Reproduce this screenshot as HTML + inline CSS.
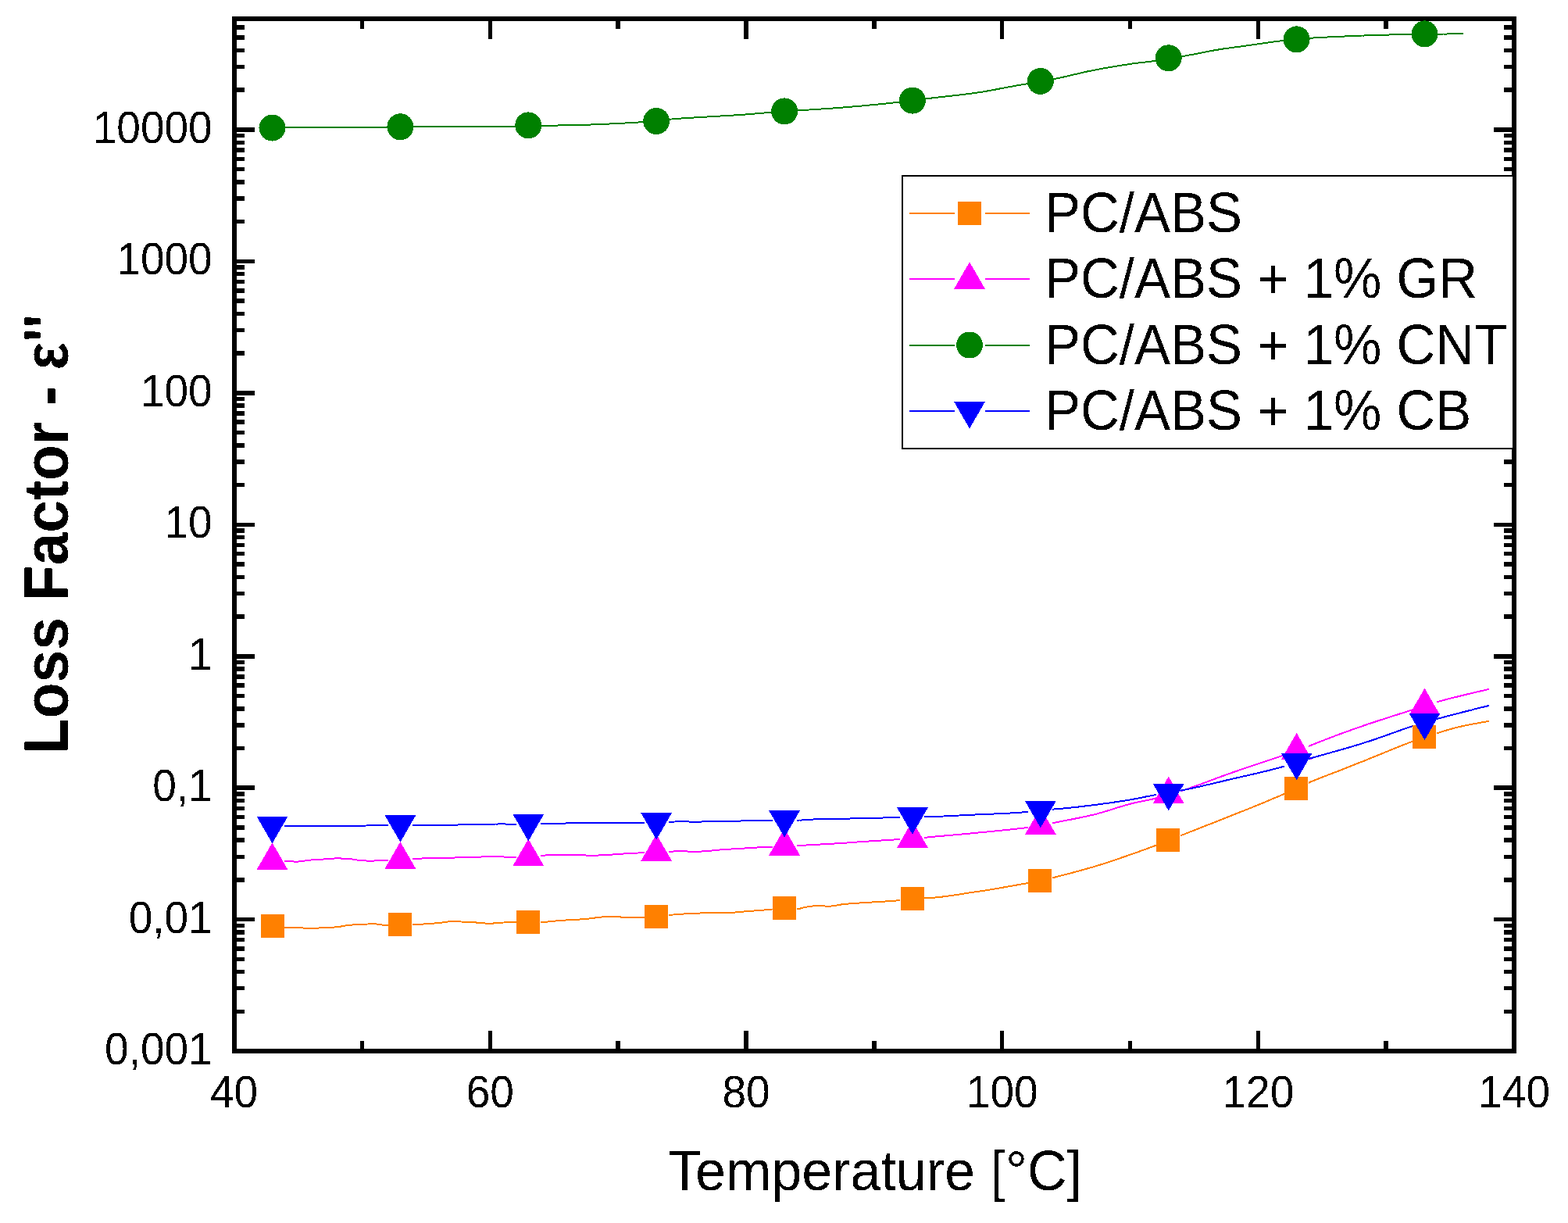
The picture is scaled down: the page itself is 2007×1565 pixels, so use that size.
<!DOCTYPE html>
<html><head><meta charset="utf-8"><title>Loss Factor vs Temperature</title>
<style>html,body{margin:0;padding:0;background:#fff;}svg{display:block;}</style>
</head><body>
<svg width="2007" height="1565" viewBox="0 0 2007 1565">
<defs><filter id="bin" x="0" y="0" width="2007" height="1565" filterUnits="userSpaceOnUse" color-interpolation-filters="sRGB"><feComponentTransfer><feFuncA type="discrete" tableValues="0 1"/></feComponentTransfer></filter></defs>
<rect width="2007" height="1565" fill="#fff"/>
<g shape-rendering="crispEdges">
<rect x="297" y="21" width="6" height="1327" fill="#000"/>
<rect x="1935" y="21" width="6" height="1327" fill="#000"/>
<rect x="297" y="21" width="1644" height="6" fill="#000"/>
<rect x="297" y="1342" width="1644" height="6" fill="#000"/>
<rect x="303" y="1342" width="23" height="6" fill="#000"/>
<rect x="1912" y="1342" width="23" height="6" fill="#000"/>
<rect x="303" y="1292" width="10" height="5" fill="#000"/>
<rect x="1925" y="1292" width="10" height="5" fill="#000"/>
<rect x="303" y="1262" width="10" height="5" fill="#000"/>
<rect x="1925" y="1262" width="10" height="5" fill="#000"/>
<rect x="303" y="1241" width="10" height="5" fill="#000"/>
<rect x="1925" y="1241" width="10" height="5" fill="#000"/>
<rect x="303" y="1225" width="10" height="5" fill="#000"/>
<rect x="1925" y="1225" width="10" height="5" fill="#000"/>
<rect x="303" y="1211" width="10" height="6" fill="#000"/>
<rect x="1925" y="1211" width="10" height="6" fill="#000"/>
<rect x="303" y="1200" width="10" height="5" fill="#000"/>
<rect x="1925" y="1200" width="10" height="5" fill="#000"/>
<rect x="303" y="1190" width="10" height="6" fill="#000"/>
<rect x="1925" y="1190" width="10" height="6" fill="#000"/>
<rect x="303" y="1182" width="10" height="5" fill="#000"/>
<rect x="1925" y="1182" width="10" height="5" fill="#000"/>
<rect x="303" y="1174" width="23" height="5" fill="#000"/>
<rect x="1912" y="1174" width="23" height="5" fill="#000"/>
<rect x="303" y="1123" width="10" height="6" fill="#000"/>
<rect x="1925" y="1123" width="10" height="6" fill="#000"/>
<rect x="303" y="1094" width="10" height="5" fill="#000"/>
<rect x="1925" y="1094" width="10" height="5" fill="#000"/>
<rect x="303" y="1072" width="10" height="6" fill="#000"/>
<rect x="1925" y="1072" width="10" height="6" fill="#000"/>
<rect x="303" y="1056" width="10" height="6" fill="#000"/>
<rect x="1925" y="1056" width="10" height="6" fill="#000"/>
<rect x="303" y="1043" width="10" height="5" fill="#000"/>
<rect x="1925" y="1043" width="10" height="5" fill="#000"/>
<rect x="303" y="1032" width="10" height="5" fill="#000"/>
<rect x="1925" y="1032" width="10" height="5" fill="#000"/>
<rect x="303" y="1022" width="10" height="5" fill="#000"/>
<rect x="1925" y="1022" width="10" height="5" fill="#000"/>
<rect x="303" y="1013" width="10" height="6" fill="#000"/>
<rect x="1925" y="1013" width="10" height="6" fill="#000"/>
<rect x="303" y="1005" width="23" height="6" fill="#000"/>
<rect x="1912" y="1005" width="23" height="6" fill="#000"/>
<rect x="303" y="955" width="10" height="5" fill="#000"/>
<rect x="1925" y="955" width="10" height="5" fill="#000"/>
<rect x="303" y="925" width="10" height="6" fill="#000"/>
<rect x="1925" y="925" width="10" height="6" fill="#000"/>
<rect x="303" y="904" width="10" height="6" fill="#000"/>
<rect x="1925" y="904" width="10" height="6" fill="#000"/>
<rect x="303" y="888" width="10" height="5" fill="#000"/>
<rect x="1925" y="888" width="10" height="5" fill="#000"/>
<rect x="303" y="874" width="10" height="6" fill="#000"/>
<rect x="1925" y="874" width="10" height="6" fill="#000"/>
<rect x="303" y="863" width="10" height="6" fill="#000"/>
<rect x="1925" y="863" width="10" height="6" fill="#000"/>
<rect x="303" y="853" width="10" height="6" fill="#000"/>
<rect x="1925" y="853" width="10" height="6" fill="#000"/>
<rect x="303" y="845" width="10" height="5" fill="#000"/>
<rect x="1925" y="845" width="10" height="5" fill="#000"/>
<rect x="303" y="837" width="23" height="6" fill="#000"/>
<rect x="1912" y="837" width="23" height="6" fill="#000"/>
<rect x="303" y="786" width="10" height="6" fill="#000"/>
<rect x="1925" y="786" width="10" height="6" fill="#000"/>
<rect x="303" y="757" width="10" height="5" fill="#000"/>
<rect x="1925" y="757" width="10" height="5" fill="#000"/>
<rect x="303" y="736" width="10" height="5" fill="#000"/>
<rect x="1925" y="736" width="10" height="5" fill="#000"/>
<rect x="303" y="719" width="10" height="6" fill="#000"/>
<rect x="1925" y="719" width="10" height="6" fill="#000"/>
<rect x="303" y="706" width="10" height="5" fill="#000"/>
<rect x="1925" y="706" width="10" height="5" fill="#000"/>
<rect x="303" y="695" width="10" height="5" fill="#000"/>
<rect x="1925" y="695" width="10" height="5" fill="#000"/>
<rect x="303" y="685" width="10" height="5" fill="#000"/>
<rect x="1925" y="685" width="10" height="5" fill="#000"/>
<rect x="303" y="676" width="10" height="6" fill="#000"/>
<rect x="1925" y="676" width="10" height="6" fill="#000"/>
<rect x="303" y="669" width="23" height="5" fill="#000"/>
<rect x="1912" y="669" width="23" height="5" fill="#000"/>
<rect x="303" y="618" width="10" height="5" fill="#000"/>
<rect x="1925" y="618" width="10" height="5" fill="#000"/>
<rect x="303" y="588" width="10" height="6" fill="#000"/>
<rect x="1925" y="588" width="10" height="6" fill="#000"/>
<rect x="303" y="567" width="10" height="6" fill="#000"/>
<rect x="1925" y="567" width="10" height="6" fill="#000"/>
<rect x="303" y="551" width="10" height="5" fill="#000"/>
<rect x="1925" y="551" width="10" height="5" fill="#000"/>
<rect x="303" y="537" width="10" height="6" fill="#000"/>
<rect x="1925" y="537" width="10" height="6" fill="#000"/>
<rect x="303" y="526" width="10" height="6" fill="#000"/>
<rect x="1925" y="526" width="10" height="6" fill="#000"/>
<rect x="303" y="516" width="10" height="6" fill="#000"/>
<rect x="1925" y="516" width="10" height="6" fill="#000"/>
<rect x="303" y="508" width="10" height="5" fill="#000"/>
<rect x="1925" y="508" width="10" height="5" fill="#000"/>
<rect x="303" y="500" width="23" height="6" fill="#000"/>
<rect x="1912" y="500" width="23" height="6" fill="#000"/>
<rect x="303" y="449" width="10" height="6" fill="#000"/>
<rect x="1925" y="449" width="10" height="6" fill="#000"/>
<rect x="303" y="420" width="10" height="5" fill="#000"/>
<rect x="1925" y="420" width="10" height="5" fill="#000"/>
<rect x="303" y="399" width="10" height="5" fill="#000"/>
<rect x="1925" y="399" width="10" height="5" fill="#000"/>
<rect x="303" y="382" width="10" height="6" fill="#000"/>
<rect x="1925" y="382" width="10" height="6" fill="#000"/>
<rect x="303" y="369" width="10" height="6" fill="#000"/>
<rect x="1925" y="369" width="10" height="6" fill="#000"/>
<rect x="303" y="358" width="10" height="5" fill="#000"/>
<rect x="1925" y="358" width="10" height="5" fill="#000"/>
<rect x="303" y="348" width="10" height="5" fill="#000"/>
<rect x="1925" y="348" width="10" height="5" fill="#000"/>
<rect x="303" y="339" width="10" height="6" fill="#000"/>
<rect x="1925" y="339" width="10" height="6" fill="#000"/>
<rect x="303" y="332" width="23" height="5" fill="#000"/>
<rect x="1912" y="332" width="23" height="5" fill="#000"/>
<rect x="303" y="281" width="10" height="5" fill="#000"/>
<rect x="1925" y="281" width="10" height="5" fill="#000"/>
<rect x="303" y="251" width="10" height="6" fill="#000"/>
<rect x="1925" y="251" width="10" height="6" fill="#000"/>
<rect x="303" y="230" width="10" height="6" fill="#000"/>
<rect x="1925" y="230" width="10" height="6" fill="#000"/>
<rect x="303" y="214" width="10" height="5" fill="#000"/>
<rect x="1925" y="214" width="10" height="5" fill="#000"/>
<rect x="303" y="201" width="10" height="5" fill="#000"/>
<rect x="1925" y="201" width="10" height="5" fill="#000"/>
<rect x="303" y="189" width="10" height="6" fill="#000"/>
<rect x="1925" y="189" width="10" height="6" fill="#000"/>
<rect x="303" y="180" width="10" height="5" fill="#000"/>
<rect x="1925" y="180" width="10" height="5" fill="#000"/>
<rect x="303" y="171" width="10" height="5" fill="#000"/>
<rect x="1925" y="171" width="10" height="5" fill="#000"/>
<rect x="303" y="163" width="23" height="6" fill="#000"/>
<rect x="1912" y="163" width="23" height="6" fill="#000"/>
<rect x="303" y="112" width="10" height="6" fill="#000"/>
<rect x="1925" y="112" width="10" height="6" fill="#000"/>
<rect x="303" y="83" width="10" height="5" fill="#000"/>
<rect x="1925" y="83" width="10" height="5" fill="#000"/>
<rect x="303" y="62" width="10" height="5" fill="#000"/>
<rect x="1925" y="62" width="10" height="5" fill="#000"/>
<rect x="303" y="45" width="10" height="6" fill="#000"/>
<rect x="1925" y="45" width="10" height="6" fill="#000"/>
<rect x="303" y="32" width="10" height="6" fill="#000"/>
<rect x="1925" y="32" width="10" height="6" fill="#000"/>
<rect x="461" y="1332" width="5" height="10" fill="#000"/>
<rect x="461" y="27" width="5" height="10" fill="#000"/>
<rect x="625" y="1319" width="5" height="23" fill="#000"/>
<rect x="625" y="27" width="5" height="23" fill="#000"/>
<rect x="788" y="1332" width="6" height="10" fill="#000"/>
<rect x="788" y="27" width="6" height="10" fill="#000"/>
<rect x="952" y="1319" width="6" height="23" fill="#000"/>
<rect x="952" y="27" width="6" height="23" fill="#000"/>
<rect x="1116" y="1332" width="6" height="10" fill="#000"/>
<rect x="1116" y="27" width="6" height="10" fill="#000"/>
<rect x="1280" y="1319" width="5" height="23" fill="#000"/>
<rect x="1280" y="27" width="5" height="23" fill="#000"/>
<rect x="1444" y="1332" width="5" height="10" fill="#000"/>
<rect x="1444" y="27" width="5" height="10" fill="#000"/>
<rect x="1608" y="1319" width="5" height="23" fill="#000"/>
<rect x="1608" y="27" width="5" height="23" fill="#000"/>
<rect x="1771" y="1332" width="6" height="10" fill="#000"/>
<rect x="1771" y="27" width="6" height="10" fill="#000"/>
</g>
<g shape-rendering="crispEdges">
<path d="M364.0,1186.5 L366.0,1186.6 L368.0,1186.7 L370.0,1186.8 L372.1,1186.9 L374.1,1187.0 L376.1,1187.1 L378.1,1187.1 L380.1,1187.2 L382.1,1187.3 L384.1,1187.4 L386.1,1187.4 L388.2,1187.5 L390.2,1187.6 L392.2,1187.6 L394.2,1187.7 L396.2,1187.7 L398.2,1187.7 L400.2,1187.7 L402.3,1187.7 L404.3,1187.6 L406.3,1187.5 L408.3,1187.5 L410.3,1187.4 L412.3,1187.3 L414.3,1187.3 L416.3,1187.2 L418.4,1187.1 L420.4,1187.0 L422.4,1186.9 L424.4,1186.8 L426.4,1186.6 L428.4,1186.5 L430.4,1186.3 L432.5,1186.0 L434.5,1185.8 L436.5,1185.5 L438.5,1185.2 L440.5,1184.8 L442.5,1184.4 L444.5,1184.2 L446.5,1183.9 L448.6,1183.7 L450.6,1183.5 L452.6,1183.4 L454.6,1183.3 L456.6,1183.2 L458.6,1183.1 L460.6,1183.0 L462.7,1183.0 L464.7,1182.9 L466.7,1182.8 L468.7,1182.6 L470.7,1182.5 L472.7,1182.3 L474.7,1182.2 L476.8,1182.1 L478.8,1182.1 L480.8,1182.3 L482.8,1182.6 L484.8,1182.9 L486.8,1183.2 L488.8,1183.5 L490.8,1183.9 L492.9,1184.0 L494.9,1184.0 L496.9,1183.9" fill="none" stroke="#FF8000" stroke-width="2"/>
<path d="M527.9,1183.0 L529.9,1183.0 L531.9,1183.0 L533.9,1182.9 L535.9,1182.9 L538.0,1182.8 L540.0,1182.7 L542.0,1182.5 L544.0,1182.4 L546.0,1182.3 L548.0,1182.1 L550.0,1182.0 L552.0,1181.9 L554.1,1181.7 L556.1,1181.5 L558.1,1181.3 L560.1,1181.1 L562.1,1180.9 L564.1,1180.7 L566.1,1180.5 L568.2,1180.2 L570.2,1180.0 L572.2,1179.6 L574.2,1179.2 L576.2,1178.8 L578.2,1178.7 L580.2,1178.8 L582.3,1178.9 L584.3,1179.0 L586.3,1179.2 L588.3,1179.4 L590.3,1179.5 L592.3,1179.6 L594.3,1179.7 L596.3,1179.8 L598.4,1179.9 L600.4,1180.0 L602.4,1180.1 L604.4,1180.2 L606.4,1180.3 L608.4,1180.4 L610.4,1180.6 L612.5,1180.8 L614.5,1181.0 L616.5,1181.1 L618.5,1181.3 L620.5,1181.5 L622.5,1181.6 L624.5,1181.7 L626.5,1181.8 L628.6,1181.8 L630.6,1181.6 L632.6,1181.4 L634.6,1181.2 L636.6,1181.0 L638.6,1180.9 L640.6,1180.7 L642.7,1180.6 L644.7,1180.5 L646.7,1180.4 L648.7,1180.3 L650.7,1180.2 L652.7,1180.1 L654.7,1180.0 L656.8,1179.9 L658.8,1179.9 L660.8,1179.8" fill="none" stroke="#FF8000" stroke-width="2"/>
<path d="M691.8,1179.8 L693.8,1179.8 L695.8,1179.8 L697.8,1179.7 L699.8,1179.6 L701.8,1179.4 L703.9,1179.3 L705.9,1179.1 L707.9,1178.9 L709.9,1178.7 L711.9,1178.4 L713.9,1178.2 L715.9,1178.0 L718.0,1177.9 L720.0,1177.7 L722.0,1177.6 L724.0,1177.5 L726.0,1177.4 L728.0,1177.3 L730.0,1177.2 L732.0,1177.1 L734.1,1176.9 L736.1,1176.8 L738.1,1176.7 L740.1,1176.6 L742.1,1176.5 L744.1,1176.4 L746.1,1176.3 L748.2,1176.1 L750.2,1176.0 L752.2,1175.8 L754.2,1175.5 L756.2,1175.2 L758.2,1175.0 L760.2,1174.7 L762.2,1174.4 L764.3,1174.2 L766.3,1174.0 L768.3,1173.8 L770.3,1173.5 L772.3,1173.3 L774.3,1173.2 L776.3,1173.0 L778.4,1172.9 L780.4,1172.9 L782.4,1172.9 L784.4,1173.0 L786.4,1173.1 L788.4,1173.2 L790.4,1173.3 L792.5,1173.4 L794.5,1173.5 L796.5,1173.5 L798.5,1173.6 L800.5,1173.6 L802.5,1173.6 L804.5,1173.6 L806.5,1173.6 L808.6,1173.6 L810.6,1173.6 L812.6,1173.6 L814.6,1173.6 L816.6,1173.6 L818.6,1173.6 L820.6,1173.6 L822.7,1173.6 L824.7,1173.6" fill="none" stroke="#FF8000" stroke-width="2"/>
<path d="M855.7,1170.8 L857.7,1170.7 L859.7,1170.6 L861.7,1170.5 L863.7,1170.4 L865.7,1170.3 L867.7,1170.1 L869.8,1170.0 L871.8,1169.8 L873.8,1169.6 L875.8,1169.4 L877.8,1169.2 L879.8,1169.0 L881.8,1168.9 L883.9,1168.8 L885.9,1168.8 L887.9,1168.7 L889.9,1168.7 L891.9,1168.6 L893.9,1168.5 L895.9,1168.5 L898.0,1168.3 L900.0,1168.1 L902.0,1168.0 L904.0,1167.9 L906.0,1167.9 L908.0,1168.0 L910.0,1168.0 L912.0,1168.1 L914.1,1168.2 L916.1,1168.3 L918.1,1168.4 L920.1,1168.4 L922.1,1168.4 L924.1,1168.4 L926.1,1168.3 L928.2,1168.2 L930.2,1168.1 L932.2,1168.0 L934.2,1167.9 L936.2,1167.8 L938.2,1167.7 L940.2,1167.6 L942.2,1167.4 L944.3,1167.3 L946.3,1167.1 L948.3,1166.8 L950.3,1166.6 L952.3,1166.5 L954.3,1166.3 L956.3,1166.2 L958.4,1166.0 L960.4,1165.9 L962.4,1165.7 L964.4,1165.6 L966.4,1165.4 L968.4,1165.3 L970.4,1165.2 L972.4,1165.0 L974.5,1164.8 L976.5,1164.7 L978.5,1164.5 L980.5,1164.4 L982.5,1164.2 L984.5,1163.9 L986.5,1163.7 L988.6,1163.4" fill="none" stroke="#FF8000" stroke-width="2"/>
<path d="M1019.6,1163.4 L1021.6,1163.3 L1023.6,1162.8 L1025.6,1162.2 L1027.6,1161.6 L1029.6,1161.1 L1031.6,1160.7 L1033.7,1160.4 L1035.7,1160.0 L1037.7,1159.7 L1039.7,1159.5 L1041.7,1159.3 L1043.7,1159.2 L1045.7,1159.2 L1047.7,1159.2 L1049.8,1159.3 L1051.8,1159.4 L1053.8,1159.4 L1055.8,1159.5 L1057.8,1159.5 L1059.8,1159.6 L1061.8,1159.6 L1063.9,1159.5 L1065.9,1159.4 L1067.9,1159.1 L1069.9,1158.7 L1071.9,1158.4 L1073.9,1158.0 L1075.9,1157.6 L1077.9,1157.3 L1080.0,1157.1 L1082.0,1156.9 L1084.0,1156.7 L1086.0,1156.5 L1088.0,1156.4 L1090.0,1156.2 L1092.0,1156.1 L1094.1,1155.9 L1096.1,1155.8 L1098.1,1155.6 L1100.1,1155.5 L1102.1,1155.4 L1104.1,1155.2 L1106.1,1155.1 L1108.2,1155.0 L1110.2,1154.8 L1112.2,1154.7 L1114.2,1154.6 L1116.2,1154.5 L1118.2,1154.4 L1120.2,1154.2 L1122.2,1154.1 L1124.3,1154.0 L1126.3,1153.9 L1128.3,1153.8 L1130.3,1153.7 L1132.3,1153.6 L1134.3,1153.4 L1136.3,1153.3 L1138.4,1153.2 L1140.4,1153.1 L1142.4,1152.9 L1144.4,1152.8 L1146.4,1152.6 L1148.4,1152.3 L1150.4,1152.1 L1152.4,1151.8" fill="none" stroke="#FF8000" stroke-width="2"/>
<path d="M1183.4,1149.5 L1185.5,1149.4 L1187.5,1149.3 L1189.5,1149.2 L1191.5,1149.0 L1193.5,1148.9 L1195.5,1148.7 L1197.5,1148.5 L1199.6,1148.3 L1201.6,1148.1 L1203.6,1147.9 L1205.6,1147.6 L1207.6,1147.4 L1209.6,1147.1 L1211.6,1146.9 L1213.6,1146.6 L1215.7,1146.3 L1217.7,1146.0 L1219.7,1145.7 L1221.7,1145.4 L1223.7,1145.1 L1225.7,1144.8 L1227.7,1144.5 L1229.8,1144.2 L1231.8,1143.9 L1233.8,1143.6 L1235.8,1143.3 L1237.8,1143.0 L1239.8,1142.6 L1241.8,1142.3 L1243.9,1142.0 L1245.9,1141.7 L1247.9,1141.4 L1249.9,1141.1 L1251.9,1140.8 L1253.9,1140.5 L1255.9,1140.2 L1257.9,1139.9 L1260.0,1139.6 L1262.0,1139.3 L1264.0,1139.0 L1266.0,1138.6 L1268.0,1138.3 L1270.0,1138.0 L1272.0,1137.6 L1274.1,1137.3 L1276.1,1137.0 L1278.1,1136.6 L1280.1,1136.3 L1282.1,1135.9 L1284.1,1135.6 L1286.1,1135.2 L1288.1,1134.9 L1290.2,1134.5 L1292.2,1134.2 L1294.2,1133.8 L1296.2,1133.4 L1298.2,1133.1 L1300.2,1132.7 L1302.2,1132.4 L1304.3,1132.0 L1306.3,1131.6 L1308.3,1131.3 L1310.3,1130.9 L1312.3,1130.6 L1314.3,1130.2 L1316.3,1129.8" fill="none" stroke="#FF8000" stroke-width="2"/>
<path d="M1347.3,1123.3 L1349.4,1122.8 L1351.4,1122.3 L1353.4,1121.7 L1355.4,1121.2 L1357.4,1120.7 L1359.4,1120.2 L1361.4,1119.7 L1363.4,1119.2 L1365.5,1118.6 L1367.5,1118.1 L1369.5,1117.6 L1371.5,1117.1 L1373.5,1116.5 L1375.5,1116.0 L1377.5,1115.4 L1379.6,1114.9 L1381.6,1114.4 L1383.6,1113.8 L1385.6,1113.2 L1387.6,1112.7 L1389.6,1112.1 L1391.6,1111.5 L1393.6,1111.0 L1395.7,1110.4 L1397.7,1109.8 L1399.7,1109.2 L1401.7,1108.6 L1403.7,1108.0 L1405.7,1107.4 L1407.7,1106.7 L1409.8,1106.1 L1411.8,1105.5 L1413.8,1104.8 L1415.8,1104.2 L1417.8,1103.5 L1419.8,1102.8 L1421.8,1102.2 L1423.8,1101.5 L1425.9,1100.8 L1427.9,1100.1 L1429.9,1099.5 L1431.9,1098.8 L1433.9,1098.1 L1435.9,1097.4 L1437.9,1096.7 L1440.0,1096.0 L1442.0,1095.3 L1444.0,1094.6 L1446.0,1093.9 L1448.0,1093.2 L1450.0,1092.5 L1452.0,1091.8 L1454.1,1091.1 L1456.1,1090.4 L1458.1,1089.7 L1460.1,1088.9 L1462.1,1088.2 L1464.1,1087.5 L1466.1,1086.8 L1468.1,1086.0 L1470.2,1085.3 L1472.2,1084.5 L1474.2,1083.8 L1476.2,1083.0 L1478.2,1082.3 L1480.2,1081.5" fill="none" stroke="#FF8000" stroke-width="2"/>
<path d="M1511.2,1069.3 L1513.2,1068.5 L1515.3,1067.7 L1517.3,1066.9 L1519.3,1066.1 L1521.3,1065.3 L1523.3,1064.5 L1525.3,1063.7 L1527.3,1062.9 L1529.3,1062.2 L1531.4,1061.4 L1533.4,1060.6 L1535.4,1059.8 L1537.4,1059.0 L1539.4,1058.2 L1541.4,1057.4 L1543.4,1056.6 L1545.5,1055.8 L1547.5,1055.0 L1549.5,1054.2 L1551.5,1053.5 L1553.5,1052.7 L1555.5,1051.9 L1557.5,1051.1 L1559.6,1050.3 L1561.6,1049.5 L1563.6,1048.7 L1565.6,1047.9 L1567.6,1047.1 L1569.6,1046.3 L1571.6,1045.5 L1573.6,1044.7 L1575.7,1043.9 L1577.7,1043.1 L1579.7,1042.3 L1581.7,1041.5 L1583.7,1040.7 L1585.7,1039.9 L1587.7,1039.1 L1589.8,1038.3 L1591.8,1037.5 L1593.8,1036.7 L1595.8,1035.9 L1597.8,1035.1 L1599.8,1034.3 L1601.8,1033.5 L1603.8,1032.6 L1605.9,1031.8 L1607.9,1031.0 L1609.9,1030.2 L1611.9,1029.3 L1613.9,1028.5 L1615.9,1027.7 L1617.9,1026.9 L1620.0,1026.0 L1622.0,1025.2 L1624.0,1024.3 L1626.0,1023.5 L1628.0,1022.6 L1630.0,1021.8 L1632.0,1020.9 L1634.0,1020.1 L1636.1,1019.2 L1638.1,1018.4 L1640.1,1017.5 L1642.1,1016.6 L1644.1,1015.7" fill="none" stroke="#FF8000" stroke-width="2"/>
<path d="M1675.1,1001.6 L1677.1,1000.7 L1679.1,999.9 L1681.2,999.0 L1683.2,998.2 L1685.2,997.4 L1687.2,996.6 L1689.2,995.8 L1691.2,995.0 L1693.2,994.2 L1695.3,993.5 L1697.3,992.7 L1699.3,991.9 L1701.3,991.1 L1703.3,990.4 L1705.3,989.6 L1707.3,988.8 L1709.3,988.0 L1711.4,987.3 L1713.4,986.5 L1715.4,985.7 L1717.4,984.9 L1719.4,984.1 L1721.4,983.3 L1723.4,982.5 L1725.5,981.7 L1727.5,980.9 L1729.5,980.1 L1731.5,979.3 L1733.5,978.5 L1735.5,977.7 L1737.5,976.9 L1739.5,976.1 L1741.6,975.3 L1743.6,974.6 L1745.6,973.8 L1747.6,973.0 L1749.6,972.2 L1751.6,971.3 L1753.6,970.5 L1755.7,969.7 L1757.7,968.9 L1759.7,968.1 L1761.7,967.3 L1763.7,966.4 L1765.7,965.6 L1767.7,964.8 L1769.8,964.0 L1771.8,963.1 L1773.8,962.3 L1775.8,961.5 L1777.8,960.6 L1779.8,959.8 L1781.8,959.0 L1783.8,958.2 L1785.9,957.3 L1787.9,956.5 L1789.9,955.7 L1791.9,954.9 L1793.9,954.1 L1795.9,953.3 L1797.9,952.5 L1800.0,951.8 L1802.0,951.0 L1804.0,950.2 L1806.0,949.5 L1808.0,948.7" fill="none" stroke="#FF8000" stroke-width="2"/>
<path d="M1839.0,938.3 L1841.0,937.7 L1843.1,937.1 L1845.1,936.5 L1847.1,935.8 L1849.2,935.2 L1851.2,934.6 L1853.2,934.0 L1855.2,933.4 L1857.3,932.9 L1859.3,932.3 L1861.3,931.8 L1863.4,931.2 L1865.4,930.7 L1867.4,930.2 L1869.5,929.7 L1871.5,929.3 L1873.5,928.8 L1875.5,928.4 L1877.6,928.0 L1879.6,927.6 L1881.6,927.2 L1883.7,926.8 L1885.7,926.4 L1887.7,926.1 L1889.8,925.7 L1891.8,925.4 L1893.8,925.0 L1895.8,924.6 L1897.9,924.3 L1899.9,923.9 L1901.9,923.6 L1904.0,923.2 L1906.0,922.8" fill="none" stroke="#FF8000" stroke-width="2"/>
<rect x="334" y="1170.0" width="30" height="30" fill="#FF8000"/>
<rect x="497" y="1168.0" width="30" height="30" fill="#FF8000"/>
<rect x="661" y="1165.0" width="30" height="30" fill="#FF8000"/>
<rect x="825" y="1158.0" width="30" height="30" fill="#FF8000"/>
<rect x="989" y="1147.0" width="30" height="30" fill="#FF8000"/>
<rect x="1153" y="1135.0" width="30" height="30" fill="#FF8000"/>
<rect x="1316" y="1112.0" width="30" height="30" fill="#FF8000"/>
<rect x="1480" y="1060.0" width="30" height="30" fill="#FF8000"/>
<rect x="1644" y="994.0" width="30" height="30" fill="#FF8000"/>
<rect x="1808" y="928.0" width="30" height="30" fill="#FF8000"/>
<path d="M364.0,1101.8 L366.0,1101.9 L368.0,1102.0 L370.0,1102.2 L372.1,1102.3 L374.1,1102.4 L376.1,1102.5 L378.1,1102.6 L380.1,1102.6 L382.1,1102.5 L384.1,1102.2 L386.1,1102.0 L388.2,1101.7 L390.2,1101.5 L392.2,1101.2 L394.2,1101.0 L396.2,1100.7 L398.2,1100.5 L400.2,1100.3 L402.3,1100.1 L404.3,1100.0 L406.3,1099.9 L408.3,1099.8 L410.3,1099.7 L412.3,1099.6 L414.3,1099.5 L416.3,1099.4 L418.4,1099.3 L420.4,1099.2 L422.4,1099.0 L424.4,1098.8 L426.4,1098.7 L428.4,1098.5 L430.4,1098.4 L432.5,1098.4 L434.5,1098.4 L436.5,1098.5 L438.5,1098.5 L440.5,1098.6 L442.5,1098.8 L444.5,1098.9 L446.5,1099.0 L448.6,1099.3 L450.6,1099.5 L452.6,1099.9 L454.6,1100.2 L456.6,1100.4 L458.6,1100.7 L460.6,1100.9 L462.7,1101.1 L464.7,1101.2 L466.7,1101.4 L468.7,1101.5 L470.7,1101.6 L472.7,1101.6 L474.7,1101.6 L476.8,1101.5 L478.8,1101.5 L480.8,1101.4 L482.8,1101.4 L484.8,1101.2 L486.8,1101.0 L488.8,1100.9 L490.8,1100.8 L492.9,1100.7 L494.9,1100.6 L496.9,1100.6" fill="none" stroke="#FF00FF" stroke-width="2"/>
<path d="M527.9,1099.0 L529.9,1098.9 L531.9,1098.8 L533.9,1098.7 L535.9,1098.7 L538.0,1098.6 L540.0,1098.5 L542.0,1098.4 L544.0,1098.4 L546.0,1098.3 L548.0,1098.3 L550.0,1098.2 L552.0,1098.2 L554.1,1098.1 L556.1,1098.0 L558.1,1098.0 L560.1,1097.9 L562.1,1097.9 L564.1,1097.8 L566.1,1097.8 L568.2,1097.7 L570.2,1097.7 L572.2,1097.7 L574.2,1097.6 L576.2,1097.6 L578.2,1097.5 L580.2,1097.5 L582.3,1097.5 L584.3,1097.4 L586.3,1097.4 L588.3,1097.4 L590.3,1097.3 L592.3,1097.3 L594.3,1097.3 L596.3,1097.3 L598.4,1097.2 L600.4,1097.2 L602.4,1097.2 L604.4,1097.1 L606.4,1097.1 L608.4,1097.0 L610.4,1096.9 L612.5,1096.8 L614.5,1096.7 L616.5,1096.5 L618.5,1096.4 L620.5,1096.2 L622.5,1096.1 L624.5,1096.1 L626.5,1096.1 L628.6,1096.1 L630.6,1096.2 L632.6,1096.2 L634.6,1096.2 L636.6,1096.3 L638.6,1096.3 L640.6,1096.4 L642.7,1096.4 L644.7,1096.5 L646.7,1096.5 L648.7,1096.6 L650.7,1096.7 L652.7,1096.7 L654.7,1096.7 L656.8,1096.8 L658.8,1096.8 L660.8,1096.8" fill="none" stroke="#FF00FF" stroke-width="2"/>
<path d="M691.8,1094.8 L693.8,1094.7 L695.8,1094.6 L697.8,1094.5 L699.8,1094.4 L701.8,1094.3 L703.9,1094.2 L705.9,1094.2 L707.9,1094.1 L709.9,1094.0 L711.9,1094.0 L713.9,1093.9 L715.9,1093.9 L718.0,1093.8 L720.0,1093.8 L722.0,1093.8 L724.0,1093.8 L726.0,1093.8 L728.0,1093.8 L730.0,1093.9 L732.0,1093.9 L734.1,1094.0 L736.1,1094.0 L738.1,1094.1 L740.1,1094.1 L742.1,1094.2 L744.1,1094.3 L746.1,1094.3 L748.2,1094.4 L750.2,1094.5 L752.2,1094.5 L754.2,1094.5 L756.2,1094.6 L758.2,1094.6 L760.2,1094.6 L762.2,1094.6 L764.3,1094.5 L766.3,1094.5 L768.3,1094.4 L770.3,1094.3 L772.3,1094.2 L774.3,1094.1 L776.3,1094.0 L778.4,1093.9 L780.4,1093.8 L782.4,1093.7 L784.4,1093.5 L786.4,1093.3 L788.4,1093.2 L790.4,1093.0 L792.5,1092.9 L794.5,1092.7 L796.5,1092.6 L798.5,1092.5 L800.5,1092.4 L802.5,1092.3 L804.5,1092.1 L806.5,1092.0 L808.6,1091.9 L810.6,1091.8 L812.6,1091.7 L814.6,1091.6 L816.6,1091.5 L818.6,1091.4 L820.6,1091.3 L822.7,1091.2 L824.7,1091.1" fill="none" stroke="#FF00FF" stroke-width="2"/>
<path d="M855.7,1089.9 L857.7,1089.8 L859.7,1089.7 L861.7,1089.5 L863.7,1089.4 L865.7,1089.2 L867.7,1089.1 L869.8,1089.1 L871.8,1089.1 L873.8,1089.2 L875.8,1089.3 L877.8,1089.4 L879.8,1089.5 L881.8,1089.6 L883.9,1089.7 L885.9,1089.7 L887.9,1089.8 L889.9,1089.8 L891.9,1089.8 L893.9,1089.7 L895.9,1089.6 L898.0,1089.5 L900.0,1089.3 L902.0,1089.2 L904.0,1089.1 L906.0,1088.9 L908.0,1088.8 L910.0,1088.6 L912.0,1088.4 L914.1,1088.2 L916.1,1088.0 L918.1,1087.8 L920.1,1087.6 L922.1,1087.4 L924.1,1087.2 L926.1,1087.1 L928.2,1087.0 L930.2,1086.8 L932.2,1086.7 L934.2,1086.6 L936.2,1086.5 L938.2,1086.4 L940.2,1086.3 L942.2,1086.2 L944.3,1086.0 L946.3,1085.9 L948.3,1085.8 L950.3,1085.7 L952.3,1085.6 L954.3,1085.4 L956.3,1085.3 L958.4,1085.2 L960.4,1085.0 L962.4,1084.9 L964.4,1084.8 L966.4,1084.7 L968.4,1084.6 L970.4,1084.4 L972.4,1084.3 L974.5,1084.2 L976.5,1084.1 L978.5,1084.0 L980.5,1083.9 L982.5,1083.9 L984.5,1083.8 L986.5,1083.7 L988.6,1083.6" fill="none" stroke="#FF00FF" stroke-width="2"/>
<path d="M1019.6,1082.2 L1021.6,1082.1 L1023.6,1082.0 L1025.6,1081.9 L1027.6,1081.8 L1029.6,1081.7 L1031.6,1081.5 L1033.7,1081.4 L1035.7,1081.3 L1037.7,1081.2 L1039.7,1081.1 L1041.7,1080.9 L1043.7,1080.8 L1045.7,1080.7 L1047.7,1080.6 L1049.8,1080.5 L1051.8,1080.3 L1053.8,1080.2 L1055.8,1080.1 L1057.8,1080.0 L1059.8,1079.9 L1061.8,1079.8 L1063.9,1079.7 L1065.9,1079.6 L1067.9,1079.5 L1069.9,1079.4 L1071.9,1079.3 L1073.9,1079.2 L1075.9,1079.1 L1077.9,1079.0 L1080.0,1078.9 L1082.0,1078.7 L1084.0,1078.5 L1086.0,1078.4 L1088.0,1078.2 L1090.0,1078.0 L1092.0,1077.8 L1094.1,1077.7 L1096.1,1077.6 L1098.1,1077.4 L1100.1,1077.3 L1102.1,1077.1 L1104.1,1077.0 L1106.1,1076.9 L1108.2,1076.8 L1110.2,1076.6 L1112.2,1076.5 L1114.2,1076.4 L1116.2,1076.3 L1118.2,1076.1 L1120.2,1076.0 L1122.2,1075.9 L1124.3,1075.8 L1126.3,1075.6 L1128.3,1075.5 L1130.3,1075.4 L1132.3,1075.3 L1134.3,1075.1 L1136.3,1075.0 L1138.4,1074.9 L1140.4,1074.8 L1142.4,1074.6 L1144.4,1074.5 L1146.4,1074.4 L1148.4,1074.3 L1150.4,1074.2 L1152.4,1074.2" fill="none" stroke="#FF00FF" stroke-width="2"/>
<path d="M1183.4,1071.9 L1185.5,1071.7 L1187.5,1071.5 L1189.5,1071.3 L1191.5,1071.1 L1193.5,1070.9 L1195.5,1070.7 L1197.5,1070.5 L1199.6,1070.3 L1201.6,1070.2 L1203.6,1070.0 L1205.6,1069.8 L1207.6,1069.6 L1209.6,1069.4 L1211.6,1069.2 L1213.6,1069.1 L1215.7,1068.9 L1217.7,1068.7 L1219.7,1068.5 L1221.7,1068.3 L1223.7,1068.2 L1225.7,1068.0 L1227.7,1067.8 L1229.8,1067.6 L1231.8,1067.4 L1233.8,1067.2 L1235.8,1067.0 L1237.8,1066.9 L1239.8,1066.7 L1241.8,1066.5 L1243.9,1066.3 L1245.9,1066.1 L1247.9,1065.9 L1249.9,1065.7 L1251.9,1065.5 L1253.9,1065.3 L1255.9,1065.1 L1257.9,1064.9 L1260.0,1064.7 L1262.0,1064.6 L1264.0,1064.4 L1266.0,1064.2 L1268.0,1064.0 L1270.0,1063.8 L1272.0,1063.6 L1274.1,1063.4 L1276.1,1063.2 L1278.1,1063.0 L1280.1,1062.8 L1282.1,1062.6 L1284.1,1062.4 L1286.1,1062.2 L1288.1,1062.0 L1290.2,1061.8 L1292.2,1061.6 L1294.2,1061.4 L1296.2,1061.2 L1298.2,1061.0 L1300.2,1060.8 L1302.2,1060.5 L1304.3,1060.3 L1306.3,1060.1 L1308.3,1059.8 L1310.3,1059.6 L1312.3,1059.4 L1314.3,1059.1 L1316.3,1058.9" fill="none" stroke="#FF00FF" stroke-width="2"/>
<path d="M1347.3,1053.2 L1349.4,1052.8 L1351.4,1052.4 L1353.4,1052.0 L1355.4,1051.6 L1357.4,1051.2 L1359.4,1050.8 L1361.4,1050.4 L1363.4,1050.0 L1365.5,1049.6 L1367.5,1049.2 L1369.5,1048.8 L1371.5,1048.5 L1373.5,1048.1 L1375.5,1047.7 L1377.5,1047.3 L1379.6,1046.9 L1381.6,1046.5 L1383.6,1046.0 L1385.6,1045.6 L1387.6,1045.2 L1389.6,1044.8 L1391.6,1044.3 L1393.6,1043.9 L1395.7,1043.4 L1397.7,1043.0 L1399.7,1042.5 L1401.7,1042.0 L1403.7,1041.5 L1405.7,1040.9 L1407.7,1040.4 L1409.8,1039.8 L1411.8,1039.2 L1413.8,1038.6 L1415.8,1038.0 L1417.8,1037.4 L1419.8,1036.8 L1421.8,1036.2 L1423.8,1035.5 L1425.9,1034.9 L1427.9,1034.3 L1429.9,1033.6 L1431.9,1033.0 L1433.9,1032.4 L1435.9,1031.8 L1437.9,1031.2 L1440.0,1030.6 L1442.0,1030.0 L1444.0,1029.5 L1446.0,1028.9 L1448.0,1028.4 L1450.0,1027.9 L1452.0,1027.4 L1454.1,1027.0 L1456.1,1026.5 L1458.1,1026.1 L1460.1,1025.7 L1462.1,1025.3 L1464.1,1024.9 L1466.1,1024.5 L1468.1,1024.1 L1470.2,1023.7 L1472.2,1023.3 L1474.2,1022.8 L1476.2,1022.3 L1478.2,1021.8 L1480.2,1021.3" fill="none" stroke="#FF00FF" stroke-width="2"/>
<path d="M1511.2,1012.2 L1513.2,1011.6 L1515.3,1011.0 L1517.3,1010.3 L1519.3,1009.7 L1521.3,1009.0 L1523.3,1008.3 L1525.3,1007.6 L1527.3,1006.9 L1529.3,1006.2 L1531.4,1005.5 L1533.4,1004.8 L1535.4,1004.0 L1537.4,1003.3 L1539.4,1002.6 L1541.4,1001.8 L1543.4,1001.1 L1545.5,1000.3 L1547.5,999.5 L1549.5,998.8 L1551.5,998.0 L1553.5,997.3 L1555.5,996.5 L1557.5,995.8 L1559.6,995.0 L1561.6,994.3 L1563.6,993.5 L1565.6,992.8 L1567.6,992.0 L1569.6,991.3 L1571.6,990.6 L1573.6,989.9 L1575.7,989.2 L1577.7,988.5 L1579.7,987.8 L1581.7,987.1 L1583.7,986.4 L1585.7,985.7 L1587.7,985.0 L1589.8,984.3 L1591.8,983.6 L1593.8,983.0 L1595.8,982.3 L1597.8,981.6 L1599.8,980.9 L1601.8,980.2 L1603.8,979.6 L1605.9,978.9 L1607.9,978.2 L1609.9,977.6 L1611.9,976.9 L1613.9,976.2 L1615.9,975.5 L1617.9,974.9 L1620.0,974.2 L1622.0,973.5 L1624.0,972.9 L1626.0,972.2 L1628.0,971.5 L1630.0,970.8 L1632.0,970.2 L1634.0,969.5 L1636.1,968.8 L1638.1,968.1 L1640.1,967.5 L1642.1,966.8 L1644.1,966.1" fill="none" stroke="#FF00FF" stroke-width="2"/>
<path d="M1675.1,954.8 L1677.1,954.1 L1679.1,953.3 L1681.2,952.5 L1683.2,951.7 L1685.2,950.9 L1687.2,950.1 L1689.2,949.3 L1691.2,948.5 L1693.2,947.7 L1695.3,946.9 L1697.3,946.1 L1699.3,945.4 L1701.3,944.6 L1703.3,943.8 L1705.3,943.0 L1707.3,942.3 L1709.3,941.5 L1711.4,940.7 L1713.4,940.0 L1715.4,939.2 L1717.4,938.5 L1719.4,937.8 L1721.4,937.0 L1723.4,936.3 L1725.5,935.6 L1727.5,934.9 L1729.5,934.1 L1731.5,933.4 L1733.5,932.7 L1735.5,932.0 L1737.5,931.3 L1739.5,930.6 L1741.6,929.9 L1743.6,929.2 L1745.6,928.5 L1747.6,927.8 L1749.6,927.1 L1751.6,926.4 L1753.6,925.8 L1755.7,925.1 L1757.7,924.4 L1759.7,923.8 L1761.7,923.1 L1763.7,922.4 L1765.7,921.8 L1767.7,921.1 L1769.8,920.5 L1771.8,919.8 L1773.8,919.2 L1775.8,918.5 L1777.8,917.9 L1779.8,917.2 L1781.8,916.6 L1783.8,915.9 L1785.9,915.3 L1787.9,914.7 L1789.9,914.0 L1791.9,913.4 L1793.9,912.8 L1795.9,912.1 L1797.9,911.5 L1800.0,910.9 L1802.0,910.3 L1804.0,909.6 L1806.0,909.0 L1808.0,908.4" fill="none" stroke="#FF00FF" stroke-width="2"/>
<path d="M1839.0,898.4 L1841.0,897.8 L1843.1,897.2 L1845.1,896.7 L1847.1,896.1 L1849.2,895.6 L1851.2,895.0 L1853.2,894.5 L1855.2,894.0 L1857.3,893.5 L1859.3,893.0 L1861.3,892.5 L1863.4,892.0 L1865.4,891.5 L1867.4,891.0 L1869.5,890.5 L1871.5,890.0 L1873.5,889.5 L1875.5,889.0 L1877.6,888.5 L1879.6,888.1 L1881.6,887.6 L1883.7,887.1 L1885.7,886.6 L1887.7,886.1 L1889.8,885.6 L1891.8,885.2 L1893.8,884.7 L1895.8,884.2 L1897.9,883.7 L1899.9,883.2 L1901.9,882.8 L1904.0,882.3 L1906.0,881.8" fill="none" stroke="#FF00FF" stroke-width="2"/>
<polygon points="348.5,1078.3 368.4,1112.8 328.6,1112.8" fill="#FF00FF"/>
<polygon points="512.4,1077.2 532.3,1111.7 492.5,1111.7" fill="#FF00FF"/>
<polygon points="676.3,1073.5 696.2,1108.0 656.4,1108.0" fill="#FF00FF"/>
<polygon points="840.2,1067.4 860.1,1101.9 820.2,1101.9" fill="#FF00FF"/>
<polygon points="1004.1,1060.0 1024.0,1094.5 984.1,1094.5" fill="#FF00FF"/>
<polygon points="1167.9,1050.4 1187.9,1084.9 1148.0,1084.9" fill="#FF00FF"/>
<polygon points="1331.8,1033.5 1351.8,1068.0 1311.9,1068.0" fill="#FF00FF"/>
<polygon points="1495.7,993.6 1515.6,1028.1 1475.8,1028.1" fill="#FF00FF"/>
<polygon points="1659.6,937.9 1679.5,972.4 1639.7,972.4" fill="#FF00FF"/>
<polygon points="1823.5,880.7 1843.4,915.2 1803.6,915.2" fill="#FF00FF"/>
<path d="M364.0,163.2 L366.0,163.2 L368.0,163.2 L370.0,163.2 L372.1,163.2 L374.1,163.2 L376.1,163.2 L378.1,163.2 L380.1,163.2 L382.1,163.2 L384.1,163.2 L386.1,163.2 L388.2,163.2 L390.2,163.2 L392.2,163.2 L394.2,163.2 L396.2,163.2 L398.2,163.2 L400.2,163.2 L402.3,163.2 L404.3,163.2 L406.3,163.2 L408.3,163.2 L410.3,163.2 L412.3,163.2 L414.3,163.2 L416.3,163.2 L418.4,163.2 L420.4,163.2 L422.4,163.2 L424.4,163.2 L426.4,163.2 L428.4,163.2 L430.4,163.2 L432.5,163.2 L434.5,163.2 L436.5,163.2 L438.5,163.2 L440.5,163.2 L442.5,163.2 L444.5,163.2 L446.5,163.2 L448.6,163.2 L450.6,163.2 L452.6,163.2 L454.6,163.2 L456.6,163.2 L458.6,163.2 L460.6,163.1 L462.7,163.1 L464.7,163.1 L466.7,163.1 L468.7,163.1 L470.7,163.1 L472.7,163.1 L474.7,163.1 L476.8,163.0 L478.8,163.0 L480.8,163.0 L482.8,163.0 L484.8,163.0 L486.8,163.0 L488.8,162.9 L490.8,162.9 L492.9,162.9 L494.9,162.8 L496.9,162.8" fill="none" stroke="#008000" stroke-width="2"/>
<path d="M527.9,161.9 L529.9,161.9 L531.9,161.9 L533.9,161.9 L535.9,161.9 L538.0,161.9 L540.0,161.8 L542.0,161.8 L544.0,161.8 L546.0,161.8 L548.0,161.8 L550.0,161.8 L552.0,161.8 L554.1,161.8 L556.1,161.8 L558.1,161.8 L560.1,161.8 L562.1,161.8 L564.1,161.8 L566.1,161.8 L568.2,161.8 L570.2,161.8 L572.2,161.8 L574.2,161.8 L576.2,161.8 L578.2,161.8 L580.2,161.8 L582.3,161.8 L584.3,161.8 L586.3,161.8 L588.3,161.8 L590.3,161.8 L592.3,161.8 L594.3,161.8 L596.3,161.8 L598.4,161.8 L600.4,161.8 L602.4,161.8 L604.4,161.8 L606.4,161.8 L608.4,161.9 L610.4,161.9 L612.5,161.9 L614.5,161.9 L616.5,162.0 L618.5,162.0 L620.5,162.0 L622.5,162.0 L624.5,162.0 L626.5,162.0 L628.6,162.0 L630.6,162.0 L632.6,162.0 L634.6,162.0 L636.6,161.9 L638.6,161.9 L640.6,161.9 L642.7,161.9 L644.7,161.9 L646.7,161.8 L648.7,161.8 L650.7,161.8 L652.7,161.7 L654.7,161.7 L656.8,161.7 L658.8,161.6 L660.8,161.6" fill="none" stroke="#008000" stroke-width="2"/>
<path d="M691.8,160.6 L693.8,160.6 L695.8,160.6 L697.8,160.6 L699.8,160.6 L701.8,160.6 L703.9,160.6 L705.9,160.6 L707.9,160.5 L709.9,160.5 L711.9,160.5 L713.9,160.5 L715.9,160.4 L718.0,160.4 L720.0,160.4 L722.0,160.4 L724.0,160.3 L726.0,160.3 L728.0,160.2 L730.0,160.2 L732.0,160.2 L734.1,160.1 L736.1,160.1 L738.1,160.0 L740.1,160.0 L742.1,159.9 L744.1,159.9 L746.1,159.8 L748.2,159.7 L750.2,159.7 L752.2,159.6 L754.2,159.5 L756.2,159.5 L758.2,159.4 L760.2,159.3 L762.2,159.3 L764.3,159.2 L766.3,159.1 L768.3,159.0 L770.3,158.9 L772.3,158.9 L774.3,158.8 L776.3,158.7 L778.4,158.6 L780.4,158.5 L782.4,158.4 L784.4,158.3 L786.4,158.2 L788.4,158.1 L790.4,158.0 L792.5,157.9 L794.5,157.8 L796.5,157.7 L798.5,157.6 L800.5,157.5 L802.5,157.4 L804.5,157.3 L806.5,157.1 L808.6,157.0 L810.6,156.9 L812.6,156.8 L814.6,156.7 L816.6,156.5 L818.6,156.4 L820.6,156.3 L822.7,156.2 L824.7,156.0" fill="none" stroke="#008000" stroke-width="2"/>
<path d="M855.7,152.8 L857.7,152.6 L859.7,152.5 L861.7,152.3 L863.7,152.1 L865.7,152.0 L867.7,151.8 L869.8,151.7 L871.8,151.5 L873.8,151.4 L875.8,151.3 L877.8,151.1 L879.8,151.0 L881.8,150.9 L883.9,150.8 L885.9,150.6 L887.9,150.5 L889.9,150.4 L891.9,150.3 L893.9,150.2 L895.9,150.1 L898.0,149.9 L900.0,149.8 L902.0,149.7 L904.0,149.6 L906.0,149.4 L908.0,149.3 L910.0,149.2 L912.0,149.1 L914.1,149.0 L916.1,148.8 L918.1,148.7 L920.1,148.6 L922.1,148.5 L924.1,148.4 L926.1,148.3 L928.2,148.2 L930.2,148.0 L932.2,147.9 L934.2,147.8 L936.2,147.7 L938.2,147.6 L940.2,147.4 L942.2,147.3 L944.3,147.2 L946.3,147.1 L948.3,146.9 L950.3,146.8 L952.3,146.6 L954.3,146.5 L956.3,146.3 L958.4,146.2 L960.4,146.0 L962.4,145.9 L964.4,145.7 L966.4,145.5 L968.4,145.4 L970.4,145.2 L972.4,145.0 L974.5,144.9 L976.5,144.7 L978.5,144.5 L980.5,144.3 L982.5,144.2 L984.5,144.0 L986.5,143.8 L988.6,143.7" fill="none" stroke="#008000" stroke-width="2"/>
<path d="M1019.6,141.5 L1021.6,141.4 L1023.6,141.2 L1025.6,141.1 L1027.6,141.0 L1029.6,140.9 L1031.6,140.7 L1033.7,140.6 L1035.7,140.5 L1037.7,140.4 L1039.7,140.2 L1041.7,140.1 L1043.7,140.0 L1045.7,139.8 L1047.7,139.7 L1049.8,139.6 L1051.8,139.4 L1053.8,139.3 L1055.8,139.2 L1057.8,139.0 L1059.8,138.9 L1061.8,138.7 L1063.9,138.6 L1065.9,138.5 L1067.9,138.3 L1069.9,138.2 L1071.9,138.0 L1073.9,137.9 L1075.9,137.7 L1077.9,137.6 L1080.0,137.4 L1082.0,137.2 L1084.0,137.1 L1086.0,136.9 L1088.0,136.8 L1090.0,136.6 L1092.0,136.4 L1094.1,136.3 L1096.1,136.1 L1098.1,135.9 L1100.1,135.7 L1102.1,135.6 L1104.1,135.4 L1106.1,135.2 L1108.2,135.0 L1110.2,134.8 L1112.2,134.6 L1114.2,134.4 L1116.2,134.3 L1118.2,134.1 L1120.2,133.9 L1122.2,133.7 L1124.3,133.5 L1126.3,133.3 L1128.3,133.1 L1130.3,132.9 L1132.3,132.7 L1134.3,132.5 L1136.3,132.3 L1138.4,132.0 L1140.4,131.8 L1142.4,131.6 L1144.4,131.4 L1146.4,131.2 L1148.4,131.0 L1150.4,130.8 L1152.4,130.5" fill="none" stroke="#008000" stroke-width="2"/>
<path d="M1183.4,126.7 L1185.5,126.4 L1187.5,126.2 L1189.5,125.9 L1191.5,125.6 L1193.5,125.4 L1195.5,125.1 L1197.5,124.9 L1199.6,124.7 L1201.6,124.4 L1203.6,124.2 L1205.6,123.9 L1207.6,123.7 L1209.6,123.5 L1211.6,123.3 L1213.6,123.0 L1215.7,122.8 L1217.7,122.6 L1219.7,122.4 L1221.7,122.1 L1223.7,121.9 L1225.7,121.7 L1227.7,121.5 L1229.8,121.2 L1231.8,121.0 L1233.8,120.8 L1235.8,120.5 L1237.8,120.3 L1239.8,120.1 L1241.8,119.8 L1243.9,119.5 L1245.9,119.3 L1247.9,119.0 L1249.9,118.7 L1251.9,118.4 L1253.9,118.1 L1255.9,117.8 L1257.9,117.5 L1260.0,117.1 L1262.0,116.8 L1264.0,116.4 L1266.0,116.1 L1268.0,115.7 L1270.0,115.3 L1272.0,115.0 L1274.1,114.6 L1276.1,114.2 L1278.1,113.8 L1280.1,113.4 L1282.1,113.0 L1284.1,112.7 L1286.1,112.3 L1288.1,111.9 L1290.2,111.5 L1292.2,111.1 L1294.2,110.8 L1296.2,110.4 L1298.2,110.0 L1300.2,109.7 L1302.2,109.3 L1304.3,109.0 L1306.3,108.6 L1308.3,108.3 L1310.3,107.9 L1312.3,107.6 L1314.3,107.2 L1316.3,106.9" fill="none" stroke="#008000" stroke-width="2"/>
<path d="M1347.3,101.4 L1349.4,101.1 L1351.4,100.7 L1353.4,100.3 L1355.4,99.9 L1357.4,99.4 L1359.4,99.0 L1361.4,98.5 L1363.4,98.1 L1365.5,97.6 L1367.5,97.2 L1369.5,96.7 L1371.5,96.2 L1373.5,95.7 L1375.5,95.2 L1377.5,94.8 L1379.6,94.3 L1381.6,93.8 L1383.6,93.3 L1385.6,92.9 L1387.6,92.4 L1389.6,92.0 L1391.6,91.5 L1393.6,91.1 L1395.7,90.7 L1397.7,90.3 L1399.7,89.9 L1401.7,89.5 L1403.7,89.1 L1405.7,88.7 L1407.7,88.3 L1409.8,88.0 L1411.8,87.6 L1413.8,87.2 L1415.8,86.9 L1417.8,86.5 L1419.8,86.2 L1421.8,85.8 L1423.8,85.5 L1425.9,85.1 L1427.9,84.8 L1429.9,84.5 L1431.9,84.1 L1433.9,83.8 L1435.9,83.5 L1437.9,83.2 L1440.0,82.9 L1442.0,82.6 L1444.0,82.3 L1446.0,82.0 L1448.0,81.7 L1450.0,81.4 L1452.0,81.1 L1454.1,80.9 L1456.1,80.6 L1458.1,80.4 L1460.1,80.2 L1462.1,79.9 L1464.1,79.7 L1466.1,79.5 L1468.1,79.3 L1470.2,79.0 L1472.2,78.8 L1474.2,78.5 L1476.2,78.2 L1478.2,77.9 L1480.2,77.6" fill="none" stroke="#008000" stroke-width="2"/>
<path d="M1511.2,72.3 L1513.2,72.0 L1515.3,71.7 L1517.3,71.4 L1519.3,71.0 L1521.3,70.7 L1523.3,70.3 L1525.3,69.9 L1527.3,69.6 L1529.3,69.2 L1531.4,68.8 L1533.4,68.4 L1535.4,68.0 L1537.4,67.6 L1539.4,67.2 L1541.4,66.8 L1543.4,66.4 L1545.5,66.0 L1547.5,65.6 L1549.5,65.2 L1551.5,64.9 L1553.5,64.5 L1555.5,64.1 L1557.5,63.8 L1559.6,63.5 L1561.6,63.2 L1563.6,62.8 L1565.6,62.5 L1567.6,62.2 L1569.6,62.0 L1571.6,61.7 L1573.6,61.4 L1575.7,61.1 L1577.7,60.8 L1579.7,60.5 L1581.7,60.3 L1583.7,60.0 L1585.7,59.7 L1587.7,59.5 L1589.8,59.2 L1591.8,58.9 L1593.8,58.6 L1595.8,58.4 L1597.8,58.1 L1599.8,57.8 L1601.8,57.5 L1603.8,57.3 L1605.9,57.0 L1607.9,56.7 L1609.9,56.4 L1611.9,56.1 L1613.9,55.8 L1615.9,55.5 L1617.9,55.2 L1620.0,54.9 L1622.0,54.6 L1624.0,54.3 L1626.0,54.0 L1628.0,53.8 L1630.0,53.5 L1632.0,53.2 L1634.0,52.9 L1636.1,52.7 L1638.1,52.5 L1640.1,52.2 L1642.1,52.0 L1644.1,51.8" fill="none" stroke="#008000" stroke-width="2"/>
<path d="M1675.1,49.0 L1677.1,48.8 L1679.1,48.7 L1681.2,48.5 L1683.2,48.4 L1685.2,48.3 L1687.2,48.2 L1689.2,48.1 L1691.2,48.0 L1693.2,47.8 L1695.3,47.7 L1697.3,47.6 L1699.3,47.5 L1701.3,47.4 L1703.3,47.3 L1705.3,47.2 L1707.3,47.1 L1709.3,47.0 L1711.4,46.9 L1713.4,46.8 L1715.4,46.7 L1717.4,46.6 L1719.4,46.5 L1721.4,46.5 L1723.4,46.4 L1725.5,46.3 L1727.5,46.2 L1729.5,46.1 L1731.5,46.0 L1733.5,45.9 L1735.5,45.8 L1737.5,45.8 L1739.5,45.7 L1741.6,45.6 L1743.6,45.5 L1745.6,45.5 L1747.6,45.4 L1749.6,45.3 L1751.6,45.2 L1753.6,45.2 L1755.7,45.1 L1757.7,45.0 L1759.7,45.0 L1761.7,44.9 L1763.7,44.9 L1765.7,44.8 L1767.7,44.7 L1769.8,44.7 L1771.8,44.6 L1773.8,44.6 L1775.8,44.5 L1777.8,44.5 L1779.8,44.4 L1781.8,44.4 L1783.8,44.3 L1785.9,44.2 L1787.9,44.2 L1789.9,44.1 L1791.9,44.1 L1793.9,44.0 L1795.9,44.0 L1797.9,43.9 L1800.0,43.9 L1802.0,43.9 L1804.0,43.8 L1806.0,43.7 L1808.0,43.7" fill="none" stroke="#008000" stroke-width="2"/>
<path d="M1839.0,43.6 L1841.1,43.6 L1843.3,43.6 L1845.4,43.6 L1847.5,43.5 L1849.6,43.5 L1851.8,43.5 L1853.9,43.4 L1856.0,43.4 L1858.1,43.3 L1860.3,43.2 L1862.4,43.2 L1864.5,43.1 L1866.6,43.1 L1868.8,43.0 L1870.9,42.9 L1873.0,42.9" fill="none" stroke="#008000" stroke-width="2"/>
<circle cx="348.5" cy="163.6" r="17" fill="#008000"/>
<circle cx="512.4" cy="162.3" r="17" fill="#008000"/>
<circle cx="676.3" cy="160.4" r="17" fill="#008000"/>
<circle cx="840.2" cy="155.0" r="17" fill="#008000"/>
<circle cx="1004.1" cy="142.4" r="17" fill="#008000"/>
<circle cx="1167.9" cy="128.6" r="17" fill="#008000"/>
<circle cx="1331.8" cy="103.9" r="17" fill="#008000"/>
<circle cx="1495.7" cy="74.3" r="17" fill="#008000"/>
<circle cx="1659.6" cy="50.4" r="17" fill="#008000"/>
<circle cx="1823.5" cy="43.4" r="17" fill="#008000"/>
<path d="M364.0,1057.0 L366.0,1057.0 L368.0,1057.0 L370.0,1057.0 L372.1,1057.0 L374.1,1057.0 L376.1,1057.0 L378.1,1057.0 L380.1,1057.0 L382.1,1057.0 L384.1,1057.0 L386.1,1057.0 L388.2,1057.0 L390.2,1057.0 L392.2,1057.0 L394.2,1057.0 L396.2,1057.0 L398.2,1057.0 L400.2,1057.0 L402.3,1057.0 L404.3,1057.0 L406.3,1057.0 L408.3,1057.0 L410.3,1057.0 L412.3,1057.0 L414.3,1057.0 L416.3,1057.0 L418.4,1057.0 L420.4,1057.0 L422.4,1057.0 L424.4,1057.0 L426.4,1057.0 L428.4,1057.0 L430.4,1057.0 L432.5,1057.0 L434.5,1057.0 L436.5,1057.0 L438.5,1056.9 L440.5,1056.9 L442.5,1056.9 L444.5,1056.9 L446.5,1056.9 L448.6,1056.9 L450.6,1056.8 L452.6,1056.8 L454.6,1056.8 L456.6,1056.8 L458.6,1056.7 L460.6,1056.7 L462.7,1056.7 L464.7,1056.6 L466.7,1056.6 L468.7,1056.5 L470.7,1056.4 L472.7,1056.3 L474.7,1056.1 L476.8,1055.9 L478.8,1055.8 L480.8,1055.8 L482.8,1055.8 L484.8,1055.8 L486.8,1055.8 L488.8,1055.7 L490.8,1055.7 L492.9,1055.7 L494.9,1055.7 L496.9,1055.7" fill="none" stroke="#0000FF" stroke-width="2"/>
<path d="M527.9,1055.7 L529.9,1055.7 L531.9,1055.7 L533.9,1055.7 L535.9,1055.7 L538.0,1055.7 L540.0,1055.7 L542.0,1055.7 L544.0,1055.7 L546.0,1055.7 L548.0,1055.7 L550.0,1055.7 L552.0,1055.7 L554.1,1055.6 L556.1,1055.6 L558.1,1055.6 L560.1,1055.6 L562.1,1055.6 L564.1,1055.6 L566.1,1055.6 L568.2,1055.6 L570.2,1055.6 L572.2,1055.6 L574.2,1055.5 L576.2,1055.5 L578.2,1055.5 L580.2,1055.5 L582.3,1055.5 L584.3,1055.5 L586.3,1055.5 L588.3,1055.4 L590.3,1055.4 L592.3,1055.4 L594.3,1055.4 L596.3,1055.4 L598.4,1055.4 L600.4,1055.3 L602.4,1055.3 L604.4,1055.3 L606.4,1055.3 L608.4,1055.2 L610.4,1055.2 L612.5,1055.1 L614.5,1055.1 L616.5,1055.1 L618.5,1055.0 L620.5,1055.0 L622.5,1054.9 L624.5,1054.9 L626.5,1054.8 L628.6,1054.7 L630.6,1054.7 L632.6,1054.6 L634.6,1054.5 L636.6,1054.5 L638.6,1054.4 L640.6,1054.4 L642.7,1054.4 L644.7,1054.4 L646.7,1054.5 L648.7,1054.6 L650.7,1054.8 L652.7,1054.9 L654.7,1054.9 L656.8,1054.9 L658.8,1054.8 L660.8,1054.6" fill="none" stroke="#0000FF" stroke-width="2"/>
<path d="M691.8,1053.9 L693.8,1053.9 L695.8,1053.9 L697.8,1053.9 L699.8,1053.8 L701.8,1053.8 L703.9,1053.8 L705.9,1053.7 L707.9,1053.7 L709.9,1053.7 L711.9,1053.6 L713.9,1053.6 L715.9,1053.6 L718.0,1053.6 L720.0,1053.5 L722.0,1053.5 L724.0,1053.5 L726.0,1053.4 L728.0,1053.4 L730.0,1053.4 L732.0,1053.4 L734.1,1053.3 L736.1,1053.3 L738.1,1053.3 L740.1,1053.2 L742.1,1053.2 L744.1,1053.2 L746.1,1053.2 L748.2,1053.1 L750.2,1053.1 L752.2,1053.1 L754.2,1053.1 L756.2,1053.0 L758.2,1053.0 L760.2,1053.0 L762.2,1053.0 L764.3,1053.0 L766.3,1053.0 L768.3,1052.9 L770.3,1052.9 L772.3,1052.9 L774.3,1052.9 L776.3,1052.9 L778.4,1052.9 L780.4,1052.9 L782.4,1052.9 L784.4,1052.9 L786.4,1052.9 L788.4,1052.9 L790.4,1052.9 L792.5,1052.8 L794.5,1052.8 L796.5,1052.8 L798.5,1052.8 L800.5,1052.8 L802.5,1052.8 L804.5,1052.8 L806.5,1052.8 L808.6,1052.8 L810.6,1052.8 L812.6,1052.7 L814.6,1052.7 L816.6,1052.7 L818.6,1052.7 L820.6,1052.7 L822.7,1052.6 L824.7,1052.6" fill="none" stroke="#0000FF" stroke-width="2"/>
<path d="M855.7,1051.8 L857.7,1051.8 L859.7,1051.7 L861.7,1051.6 L863.7,1051.5 L865.7,1051.4 L867.7,1051.3 L869.8,1051.2 L871.8,1051.1 L873.8,1051.1 L875.8,1051.2 L877.8,1051.3 L879.8,1051.4 L881.8,1051.5 L883.9,1051.6 L885.9,1051.6 L887.9,1051.6 L889.9,1051.6 L891.9,1051.6 L893.9,1051.5 L895.9,1051.5 L898.0,1051.5 L900.0,1051.4 L902.0,1051.4 L904.0,1051.3 L906.0,1051.3 L908.0,1051.3 L910.0,1051.2 L912.0,1051.2 L914.1,1051.1 L916.1,1051.1 L918.1,1051.0 L920.1,1051.0 L922.1,1051.0 L924.1,1050.9 L926.1,1050.9 L928.2,1050.8 L930.2,1050.8 L932.2,1050.8 L934.2,1050.7 L936.2,1050.7 L938.2,1050.6 L940.2,1050.6 L942.2,1050.6 L944.3,1050.5 L946.3,1050.5 L948.3,1050.5 L950.3,1050.4 L952.3,1050.4 L954.3,1050.4 L956.3,1050.4 L958.4,1050.3 L960.4,1050.3 L962.4,1050.3 L964.4,1050.3 L966.4,1050.3 L968.4,1050.2 L970.4,1050.2 L972.4,1050.2 L974.5,1050.2 L976.5,1050.1 L978.5,1050.1 L980.5,1050.1 L982.5,1050.0 L984.5,1050.0 L986.5,1049.9 L988.6,1049.9" fill="none" stroke="#0000FF" stroke-width="2"/>
<path d="M1019.6,1049.6 L1021.6,1049.6 L1023.6,1049.5 L1025.6,1049.5 L1027.6,1049.4 L1029.6,1049.2 L1031.6,1049.1 L1033.7,1049.0 L1035.7,1048.8 L1037.7,1048.7 L1039.7,1048.6 L1041.7,1048.4 L1043.7,1048.3 L1045.7,1048.3 L1047.7,1048.2 L1049.8,1048.2 L1051.8,1048.2 L1053.8,1048.1 L1055.8,1048.1 L1057.8,1048.1 L1059.8,1048.1 L1061.8,1048.1 L1063.9,1048.1 L1065.9,1048.1 L1067.9,1048.0 L1069.9,1048.0 L1071.9,1048.0 L1073.9,1047.9 L1075.9,1047.9 L1077.9,1047.8 L1080.0,1047.8 L1082.0,1047.7 L1084.0,1047.6 L1086.0,1047.5 L1088.0,1047.5 L1090.0,1047.4 L1092.0,1047.3 L1094.1,1047.3 L1096.1,1047.3 L1098.1,1047.2 L1100.1,1047.2 L1102.1,1047.2 L1104.1,1047.2 L1106.1,1047.1 L1108.2,1047.1 L1110.2,1047.1 L1112.2,1047.1 L1114.2,1047.0 L1116.2,1047.0 L1118.2,1046.9 L1120.2,1046.9 L1122.2,1046.8 L1124.3,1046.8 L1126.3,1046.7 L1128.3,1046.6 L1130.3,1046.5 L1132.3,1046.4 L1134.3,1046.4 L1136.3,1046.3 L1138.4,1046.2 L1140.4,1046.1 L1142.4,1046.0 L1144.4,1045.9 L1146.4,1045.9 L1148.4,1045.8 L1150.4,1045.7 L1152.4,1045.6" fill="none" stroke="#0000FF" stroke-width="2"/>
<path d="M1183.4,1045.0 L1185.5,1045.0 L1187.5,1045.0 L1189.5,1045.0 L1191.5,1044.9 L1193.5,1044.9 L1195.5,1044.9 L1197.5,1044.8 L1199.6,1044.8 L1201.6,1044.7 L1203.6,1044.6 L1205.6,1044.6 L1207.6,1044.5 L1209.6,1044.4 L1211.6,1044.3 L1213.6,1044.2 L1215.7,1044.1 L1217.7,1044.0 L1219.7,1043.9 L1221.7,1043.8 L1223.7,1043.7 L1225.7,1043.6 L1227.7,1043.5 L1229.8,1043.4 L1231.8,1043.3 L1233.8,1043.2 L1235.8,1043.1 L1237.8,1043.0 L1239.8,1042.9 L1241.8,1042.8 L1243.9,1042.7 L1245.9,1042.6 L1247.9,1042.5 L1249.9,1042.4 L1251.9,1042.3 L1253.9,1042.2 L1255.9,1042.1 L1257.9,1042.1 L1260.0,1042.0 L1262.0,1041.9 L1264.0,1041.8 L1266.0,1041.7 L1268.0,1041.6 L1270.0,1041.6 L1272.0,1041.5 L1274.1,1041.4 L1276.1,1041.3 L1278.1,1041.2 L1280.1,1041.1 L1282.1,1041.0 L1284.1,1041.0 L1286.1,1040.9 L1288.1,1040.8 L1290.2,1040.7 L1292.2,1040.6 L1294.2,1040.4 L1296.2,1040.3 L1298.2,1040.2 L1300.2,1040.1 L1302.2,1040.0 L1304.3,1039.8 L1306.3,1039.7 L1308.3,1039.5 L1310.3,1039.4 L1312.3,1039.2 L1314.3,1039.0 L1316.3,1038.9" fill="none" stroke="#0000FF" stroke-width="2"/>
<path d="M1347.3,1035.6 L1349.4,1035.5 L1351.4,1035.4 L1353.4,1035.2 L1355.4,1035.1 L1357.4,1034.9 L1359.4,1034.7 L1361.4,1034.5 L1363.4,1034.3 L1365.5,1034.1 L1367.5,1033.9 L1369.5,1033.7 L1371.5,1033.5 L1373.5,1033.3 L1375.5,1033.1 L1377.5,1032.8 L1379.6,1032.6 L1381.6,1032.4 L1383.6,1032.1 L1385.6,1031.9 L1387.6,1031.6 L1389.6,1031.4 L1391.6,1031.1 L1393.6,1030.9 L1395.7,1030.6 L1397.7,1030.4 L1399.7,1030.1 L1401.7,1029.9 L1403.7,1029.6 L1405.7,1029.4 L1407.7,1029.1 L1409.8,1028.9 L1411.8,1028.6 L1413.8,1028.3 L1415.8,1028.0 L1417.8,1027.8 L1419.8,1027.5 L1421.8,1027.2 L1423.8,1026.9 L1425.9,1026.6 L1427.9,1026.3 L1429.9,1026.0 L1431.9,1025.7 L1433.9,1025.4 L1435.9,1025.1 L1437.9,1024.8 L1440.0,1024.5 L1442.0,1024.1 L1444.0,1023.8 L1446.0,1023.5 L1448.0,1023.1 L1450.0,1022.8 L1452.0,1022.4 L1454.1,1022.1 L1456.1,1021.7 L1458.1,1021.3 L1460.1,1020.9 L1462.1,1020.5 L1464.1,1020.1 L1466.1,1019.6 L1468.1,1019.2 L1470.2,1018.8 L1472.2,1018.4 L1474.2,1018.0 L1476.2,1017.6 L1478.2,1017.3 L1480.2,1016.9" fill="none" stroke="#0000FF" stroke-width="2"/>
<path d="M1511.2,1011.6 L1513.2,1011.3 L1515.3,1010.9 L1517.3,1010.5 L1519.3,1010.0 L1521.3,1009.6 L1523.3,1009.2 L1525.3,1008.8 L1527.3,1008.3 L1529.3,1007.9 L1531.4,1007.5 L1533.4,1007.0 L1535.4,1006.6 L1537.4,1006.1 L1539.4,1005.6 L1541.4,1005.2 L1543.4,1004.7 L1545.5,1004.2 L1547.5,1003.8 L1549.5,1003.3 L1551.5,1002.8 L1553.5,1002.4 L1555.5,1001.9 L1557.5,1001.4 L1559.6,1000.9 L1561.6,1000.5 L1563.6,1000.0 L1565.6,999.5 L1567.6,999.0 L1569.6,998.5 L1571.6,998.1 L1573.6,997.6 L1575.7,997.1 L1577.7,996.6 L1579.7,996.2 L1581.7,995.7 L1583.7,995.2 L1585.7,994.8 L1587.7,994.3 L1589.8,993.9 L1591.8,993.4 L1593.8,993.0 L1595.8,992.5 L1597.8,992.0 L1599.8,991.6 L1601.8,991.1 L1603.8,990.7 L1605.9,990.2 L1607.9,989.7 L1609.9,989.3 L1611.9,988.8 L1613.9,988.3 L1615.9,987.8 L1617.9,987.4 L1620.0,986.9 L1622.0,986.4 L1624.0,985.9 L1626.0,985.4 L1628.0,984.9 L1630.0,984.3 L1632.0,983.8 L1634.0,983.3 L1636.1,982.7 L1638.1,982.2 L1640.1,981.6 L1642.1,981.0 L1644.1,980.5" fill="none" stroke="#0000FF" stroke-width="2"/>
<path d="M1675.1,971.0 L1677.1,970.4 L1679.1,969.9 L1681.2,969.3 L1683.2,968.7 L1685.2,968.2 L1687.2,967.6 L1689.2,967.0 L1691.2,966.5 L1693.2,965.9 L1695.3,965.4 L1697.3,964.8 L1699.3,964.2 L1701.3,963.7 L1703.3,963.1 L1705.3,962.5 L1707.3,962.0 L1709.3,961.4 L1711.4,960.8 L1713.4,960.2 L1715.4,959.7 L1717.4,959.1 L1719.4,958.5 L1721.4,957.9 L1723.4,957.3 L1725.5,956.8 L1727.5,956.2 L1729.5,955.6 L1731.5,955.0 L1733.5,954.4 L1735.5,953.8 L1737.5,953.2 L1739.5,952.6 L1741.6,951.9 L1743.6,951.3 L1745.6,950.7 L1747.6,950.1 L1749.6,949.4 L1751.6,948.8 L1753.6,948.1 L1755.7,947.5 L1757.7,946.8 L1759.7,946.1 L1761.7,945.4 L1763.7,944.7 L1765.7,944.0 L1767.7,943.3 L1769.8,942.6 L1771.8,941.9 L1773.8,941.2 L1775.8,940.4 L1777.8,939.7 L1779.8,939.0 L1781.8,938.3 L1783.8,937.5 L1785.9,936.8 L1787.9,936.1 L1789.9,935.4 L1791.9,934.7 L1793.9,933.9 L1795.9,933.2 L1797.9,932.5 L1800.0,931.8 L1802.0,931.2 L1804.0,930.5 L1806.0,929.8 L1808.0,929.1" fill="none" stroke="#0000FF" stroke-width="2"/>
<path d="M1839.0,920.0 L1841.0,919.5 L1843.1,919.0 L1845.1,918.4 L1847.1,917.9 L1849.2,917.3 L1851.2,916.8 L1853.2,916.3 L1855.2,915.7 L1857.3,915.2 L1859.3,914.7 L1861.3,914.1 L1863.4,913.6 L1865.4,913.1 L1867.4,912.6 L1869.5,912.0 L1871.5,911.5 L1873.5,911.0 L1875.5,910.5 L1877.6,910.0 L1879.6,909.5 L1881.6,909.0 L1883.7,908.5 L1885.7,907.9 L1887.7,907.4 L1889.8,906.9 L1891.8,906.4 L1893.8,905.9 L1895.8,905.4 L1897.9,904.9 L1899.9,904.4 L1901.9,903.9 L1904.0,903.4 L1906.0,902.9" fill="none" stroke="#0000FF" stroke-width="2"/>
<polygon points="348.5,1079.3 368.4,1044.8 328.6,1044.8" fill="#0000FF"/>
<polygon points="512.4,1077.7 532.3,1043.2 492.5,1043.2" fill="#0000FF"/>
<polygon points="676.3,1076.4 696.2,1041.9 656.4,1041.9" fill="#0000FF"/>
<polygon points="840.2,1074.5 860.1,1040.0 820.2,1040.0" fill="#0000FF"/>
<polygon points="1004.1,1071.6 1024.0,1037.1 984.1,1037.1" fill="#0000FF"/>
<polygon points="1167.9,1067.7 1187.9,1033.2 1148.0,1033.2" fill="#0000FF"/>
<polygon points="1331.8,1059.4 1351.8,1024.9 1311.9,1024.9" fill="#0000FF"/>
<polygon points="1495.7,1037.4 1515.6,1002.9 1475.8,1002.9" fill="#0000FF"/>
<polygon points="1659.6,998.3 1679.5,963.8 1639.7,963.8" fill="#0000FF"/>
<polygon points="1823.5,947.2 1843.4,912.7 1803.6,912.7" fill="#0000FF"/>
</g>
<g shape-rendering="crispEdges">
<rect x="1155" y="225" width="782" height="349" fill="#fff" stroke="#000" stroke-width="2"/>
<rect x="1164" y="272.0" width="58" height="2" fill="#FF8000"/>
<rect x="1261" y="272.0" width="57" height="2" fill="#FF8000"/>
<rect x="1226" y="258.0" width="30" height="30" fill="#FF8000"/>
<rect x="1164" y="356.0" width="58" height="2" fill="#FF00FF"/>
<rect x="1261" y="356.0" width="57" height="2" fill="#FF00FF"/>
<polygon points="1241.0,335.2 1260.9,369.7 1221.1,369.7" fill="#FF00FF"/>
<rect x="1164" y="440.5" width="58" height="2" fill="#008000"/>
<rect x="1261" y="440.5" width="57" height="2" fill="#008000"/>
<circle cx="1241.0" cy="441.5" r="17" fill="#008000"/>
<rect x="1164" y="525.0" width="58" height="2" fill="#0000FF"/>
<rect x="1261" y="525.0" width="57" height="2" fill="#0000FF"/>
<polygon points="1241.0,548.5 1260.9,514.0 1221.1,514.0" fill="#0000FF"/>
</g>
<g filter="url(#bin)">
<text transform="translate(271.7,1362) scale(1,1.0265)" text-anchor="end" font-size="55" font-family="'Liberation Sans', Arial, sans-serif">0,001</text>
<text transform="translate(271.7,1194) scale(1,1.0265)" text-anchor="end" font-size="55" font-family="'Liberation Sans', Arial, sans-serif">0,01</text>
<text transform="translate(271.7,1025) scale(1,1.0265)" text-anchor="end" font-size="55" font-family="'Liberation Sans', Arial, sans-serif">0,1</text>
<text transform="translate(271.7,857) scale(1,1.0265)" text-anchor="end" font-size="55" font-family="'Liberation Sans', Arial, sans-serif">1</text>
<text transform="translate(271.7,688) scale(1,1.0265)" text-anchor="end" font-size="55" font-family="'Liberation Sans', Arial, sans-serif">10</text>
<text transform="translate(271.7,520) scale(1,1.0265)" text-anchor="end" font-size="55" font-family="'Liberation Sans', Arial, sans-serif">100</text>
<text transform="translate(271.7,351) scale(1,1.0265)" text-anchor="end" font-size="55" font-family="'Liberation Sans', Arial, sans-serif">1000</text>
<text transform="translate(271.7,183) scale(1,1.0265)" text-anchor="end" font-size="55" font-family="'Liberation Sans', Arial, sans-serif">10000</text>
<text transform="translate(299.6,1417) scale(1,1.0265)" text-anchor="middle" font-size="55" font-family="'Liberation Sans', Arial, sans-serif">40</text>
<text transform="translate(627.3,1417) scale(1,1.0265)" text-anchor="middle" font-size="55" font-family="'Liberation Sans', Arial, sans-serif">60</text>
<text transform="translate(955.0,1417) scale(1,1.0265)" text-anchor="middle" font-size="55" font-family="'Liberation Sans', Arial, sans-serif">80</text>
<text transform="translate(1282.7,1417) scale(1,1.0265)" text-anchor="middle" font-size="55" font-family="'Liberation Sans', Arial, sans-serif">100</text>
<text transform="translate(1610.4,1417) scale(1,1.0265)" text-anchor="middle" font-size="55" font-family="'Liberation Sans', Arial, sans-serif">120</text>
<text transform="translate(1938.1,1417) scale(1,1.0265)" text-anchor="middle" font-size="55" font-family="'Liberation Sans', Arial, sans-serif">140</text>
<text transform="translate(1120,1523) scale(1,1.02)" text-anchor="middle" font-size="70" font-family="'Liberation Sans', Arial, sans-serif">Temperature [°C]</text>
<text transform="translate(86,965) rotate(-90) scale(1,1.05)" font-size="75" font-weight="bold" font-family="'Liberation Sans', Arial, sans-serif">Loss Factor - ε''</text>
<text transform="translate(1337,297.0) scale(1,1.05)" font-size="69" font-family="'Liberation Sans', Arial, sans-serif">PC/ABS</text>
<text transform="translate(1337,381.0) scale(1,1.05)" font-size="69" font-family="'Liberation Sans', Arial, sans-serif">PC/ABS + 1% GR</text>
<text transform="translate(1337,465.5) scale(1,1.05)" font-size="69" font-family="'Liberation Sans', Arial, sans-serif">PC/ABS + 1% CNT</text>
<text transform="translate(1337,550.0) scale(1,1.05)" font-size="69" font-family="'Liberation Sans', Arial, sans-serif">PC/ABS + 1% CB</text>
</g>
</svg>
</body></html>
